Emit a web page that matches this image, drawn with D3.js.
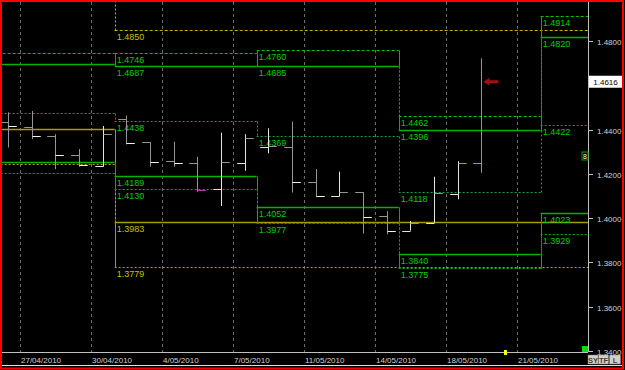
<!DOCTYPE html>
<html>
<head>
<meta charset="utf-8">
<script src="https://cdn.jsdelivr.net/npm/d3@7"></script>
<style>
  body { margin: 0; background: #000; }
  svg { display: block; font-family: "Liberation Sans", Arial, sans-serif; }
</style>
</head>
<body>
<svg width="625" height="370"></svg>
<script>
// trading sessions on the x axis (forex feed with sunday sessions)
var slots = ["25/04/2010", "26/04/2010", "27/04/2010", "28/04/2010", "29/04/2010", "30/04/2010",
             "2/05/2010", "3/05/2010", "4/05/2010", "5/05/2010", "6/05/2010", "7/05/2010",
             "9/05/2010", "10/05/2010", "11/05/2010", "12/05/2010", "13/05/2010", "14/05/2010",
             "16/05/2010", "17/05/2010", "18/05/2010", "19/05/2010", "20/05/2010", "21/05/2010",
             "23/05/2010", "24/05/2010"];
var tickDays = ["27/04/2010", "30/04/2010", "4/05/2010", "7/05/2010", "11/05/2010", "14/05/2010", "18/05/2010", "21/05/2010"];

// daily OHLC bars
var barDays = ["26/04/2010", "27/04/2010", "28/04/2010", "29/04/2010", "30/04/2010",
               "2/05/2010", "3/05/2010", "4/05/2010", "5/05/2010", "6/05/2010", "7/05/2010",
               "9/05/2010", "10/05/2010", "11/05/2010", "12/05/2010", "13/05/2010", "14/05/2010",
               "16/05/2010", "17/05/2010", "18/05/2010", "19/05/2010"];
var opens  = [1.4436, 1.4413, 1.4371, 1.4285, 1.4235, 1.4448, 1.4342, 1.4258, 1.4248, 1.4130, 1.4250,
              1.4323, 1.4323, 1.4165, 1.4100, 1.4117, 1.4010, 1.3943, 1.3979, 1.4108, 1.4248];
var highs  = [1.4478, 1.4484, 1.4379, 1.4312, 1.4416, 1.4463, 1.4342, 1.4345, 1.4277, 1.4386, 1.4379,
              1.4406, 1.4436, 1.4222, 1.4210, 1.4118, 1.4032, 1.3987, 1.4187, 1.4257, 1.4722];
var lows   = [1.4319, 1.4357, 1.4221, 1.4232, 1.4232, 1.4333, 1.4232, 1.4232, 1.4119, 1.4055, 1.4214,
              1.4293, 1.4116, 1.4095, 1.4098, 1.3931, 1.3927, 1.3943, 1.3979, 1.4085, 1.4205];
var closes = [1.4416, 1.4371, 1.4285, 1.4240, 1.4379, 1.4338, 1.4253, 1.4248, 1.4127, 1.4255, 1.4361,
              1.4327, 1.4164, 1.4100, 1.4119, 1.4003, 1.3943, 1.3979, 1.4112, 1.4250, 1.4616];
var markedDay = "5/05/2010";

// weekly levels (green), one value per week
var weekStarts = ["25/04/2010", "2/05/2010", "9/05/2010", "16/05/2010", "23/05/2010"];
var weekHighDash  = [1.4746, 1.4746, 1.4760, 1.4462, 1.4914];
var weekHighSolid = [1.4695, 1.4687, 1.4685, 1.4396, 1.4820];
var weekMid       = [1.4473, 1.4438, 1.4369, 1.4118, 1.4422];
var weekLowSolid  = [1.4255, 1.4189, 1.4052, 1.3840, 1.4023];
var weekLowDash   = [1.4202, 1.4130, 1.3977, 1.3775, 1.3929];

// monthly levels (yellow)
var monthStarts = ["25/04/2010", "2/05/2010"];
var monthHighDash = [1.5150, 1.4850];
var monthSolid    = [1.4401, 1.3983];
var monthLowDash  = [1.4243, 1.3779];

// price axis
var priceTicks = [1.48, 1.46, 1.44, 1.42, 1.40, 1.38, 1.36, 1.34];
var lastPrice = 1.4616;

var svg = d3.select("svg"),
    width = +svg.attr("width"),
    height = +svg.attr("height"),
    plotRight = 588,
    plotBottom = 352;

var x = d3.scaleBand().domain(slots).range([plotRight - slots.length * 71 / 3, plotRight]).padding(0),
    y = d3.scaleLinear().domain([1.34, 1.48]).range([351, 41]);
var bw = x.bandwidth();

function px(v) { return Math.round(v) + 0.5; }

svg.append("rect").attr("width", width).attr("height", height).attr("fill", "#000");

svg.append("clipPath").attr("id", "plot-clip")
  .append("rect").attr("x", 0).attr("y", 0).attr("width", plotRight).attr("height", plotBottom);

var g = svg.append("g").attr("clip-path", "url(#plot-clip)");

// vertical date grid
g.selectAll(".grid")
  .data(tickDays)
  .enter().append("line")
    .attr("x1", function(d) { return px(x(d)); })
    .attr("x2", function(d) { return px(x(d)); })
    .attr("y1", 2).attr("y2", plotBottom)
    .attr("stroke", "#6c6c6c")
    .attr("stroke-dasharray", "3,3");

// step level: horizontal piece per period, dotted connector at each change
function segments(starts, vals) {
  return starts.map(function(s, i) {
    return {x0: x(s), x1: i < starts.length - 1 ? x(starts[i + 1]) : plotRight,
            v: vals[i], prev: i > 0 ? vals[i - 1] : null};
  });
}

function drawLevel(starts, vals, color, dash, sw, labelColor) {
  var segs = segments(starts, vals);
  g.selectAll(null)
    .data(segs)
    .enter().append("line")
      .attr("x1", function(d) { return d.x0; })
      .attr("x2", function(d) { return d.x1; })
      .attr("y1", function(d) { return px(y(d.v)); })
      .attr("y2", function(d) { return px(y(d.v)); })
      .attr("stroke", color)
      .attr("stroke-width", sw)
      .attr("stroke-dasharray", dash);
  g.selectAll(null)
    .data(segs.filter(function(d) { return d.prev !== null; }))
    .enter().append("line")
      .attr("x1", function(d) { return px(d.x0); })
      .attr("x2", function(d) { return px(d.x0); })
      .attr("y1", function(d) { return px(y(d.prev)); })
      .attr("y2", function(d) { return px(y(d.v)); })
      .attr("stroke", color)
      .attr("stroke-dasharray", "2,2");
  g.selectAll(null)
    .data(segs.filter(function(d) { return d.x0 >= 0; }))
    .enter().append("text")
      .attr("x", function(d) { return d.x0 + 2; })
      .attr("y", function(d) { return y(d.v) + 10; })
      .attr("fill", labelColor)
      .attr("font-size", "9px")
      .text(function(d) { return d.v.toFixed(4); });
}

// box sides between a solid level and its dashed partner
function drawBoxSides(starts, a, b, color) {
  var segs = segments(starts, a);
  var sides = [];
  segs.forEach(function(d, i) {
    sides.push({x: d.x0, a: a[i], b: b[i]});
    sides.push({x: d.x1, a: a[i], b: b[i]});
  });
  g.selectAll(null)
    .data(sides)
    .enter().append("line")
      .attr("x1", function(d) { return px(d.x); })
      .attr("x2", function(d) { return px(d.x); })
      .attr("y1", function(d) { return px(y(d.a)); })
      .attr("y2", function(d) { return px(y(d.b)); })
      .attr("stroke", color);
}

// monthly levels
drawLevel(monthStarts, monthHighDash, "#c8b000", "3,2", 1, "#c8c000");
drawLevel(monthStarts, monthSolid, "#a89a00", null, 1.5, "#c8c000");
drawLevel(monthStarts, monthLowDash, "#b0a000", "2,2", 1, "#c8c000");
drawBoxSides(monthStarts, monthSolid, monthLowDash, "#a89a00");

// weekly levels
drawLevel(weekStarts, weekHighDash, "#00c800", "3,2", 1, "#00d000");
drawLevel(weekStarts, weekHighSolid, "#00b400", null, 1.5, "#00d000");
drawLevel(weekStarts, weekMid, "#10a048", "2,2", 1, "#00d000");
drawLevel(weekStarts, weekLowSolid, "#00b400", null, 1.5, "#00d000");
drawLevel(weekStarts, weekLowDash, "#00b400", "2,2", 1, "#00d000");
drawBoxSides(weekStarts, weekHighSolid, weekHighDash, "#00b400");
drawBoxSides(weekStarts, weekLowSolid, weekLowDash, "#00b400");

// OHLC bars
var bars = barDays.map(function(d, i) {
  return {day: d, o: opens[i], h: highs[i], l: lows[i], c: closes[i], last: i === barDays.length - 1};
});
var tick = bw * 0.35;
function barColor(d) { return d.last ? "#1ec8c8" : (d.c >= d.o ? "#e4e4e4" : "#969696"); }
function closeColor(d) {
  if (d.day === markedDay) return "#c030c0";
  return d.c >= d.o ? "#969696" : "#f0f0f0";
}

var bar = g.selectAll(".bar")
  .data(bars)
  .enter().append("g")
    .attr("class", "bar")
    .attr("transform", function(d) { return "translate(" + px(x(d.day) + bw / 2) + ",0)"; });

bar.append("line")
    .attr("y1", function(d) { return y(d.h); })
    .attr("y2", function(d) { return y(d.l); })
    .attr("stroke", barColor);
bar.append("line")
    .attr("x1", -tick).attr("x2", 0)
    .attr("y1", function(d) { return px(y(d.o)); })
    .attr("y2", function(d) { return px(y(d.o)); })
    .attr("stroke", barColor);
bar.filter(function(d) { return !d.last; }).append("line")
    .attr("x1", 0).attr("x2", tick)
    .attr("y1", function(d) { return px(y(d.c)); })
    .attr("y2", function(d) { return px(y(d.c)); })
    .attr("stroke", closeColor);

// bid arrow next to the live bar
var ax = x(barDays[barDays.length - 1]) + bw / 2 + 2,
    ay = y(lastPrice);
g.append("path")
    .attr("d", "M" + ax + "," + ay + "l6,-4v2.5h9v3h-9v2.5z")
    .attr("fill", "#a01010");

// price axis
svg.append("line")
    .attr("x1", px(plotRight)).attr("x2", px(plotRight))
    .attr("y1", 0).attr("y2", plotBottom)
    .attr("stroke", "#c0c0c0");
svg.append("line")
    .attr("x1", 0).attr("x2", plotRight)
    .attr("y1", px(plotBottom)).attr("y2", px(plotBottom))
    .attr("stroke", "#c0c0c0");

var yAxis = svg.append("g").selectAll("g")
  .data(priceTicks)
  .enter().append("g")
    .attr("transform", function(d) { return "translate(0," + px(y(d)) + ")"; });
yAxis.append("line").attr("x1", 589).attr("x2", 593).attr("stroke", "#c0c0c0");
// the last price box covers whichever tick label sits under it
yAxis.filter(function(d) { return Math.abs(y(d) - y(lastPrice)) > 9; })
  .append("text")
    .attr("x", 597).attr("y", 3)
    .attr("fill", "#d0d0d0")
    .attr("font-size", "8px")
    .text(function(d) { return d.toFixed(4); });

// last price box
svg.append("rect")
    .attr("x", 589).attr("y", y(lastPrice) - 6)
    .attr("width", 33).attr("height", 12)
    .attr("fill", "#fff");
svg.append("text")
    .attr("x", 605.5).attr("y", y(lastPrice) + 3)
    .attr("text-anchor", "middle")
    .attr("fill", "#000")
    .attr("font-size", "8px")
    .text(lastPrice.toFixed(4));

// date labels
svg.selectAll(".date")
  .data(tickDays)
  .enter().append("text")
    .attr("class", "date")
    .attr("x", function(d) { return x(d) + 1; })
    .attr("y", 363)
    .attr("fill", "#d0d0d0")
    .attr("font-size", "8px")
    .text(function(d) { return d; });

// small terminal widgets
svg.append("rect").attr("x", 582).attr("y", 152).attr("width", 6).attr("height", 8)
    .attr("fill", "#000").attr("stroke", "#00a000");
svg.append("text").attr("x", 585).attr("y", 159).attr("text-anchor", "middle")
    .attr("fill", "#fff").attr("font-size", "7px").text("8");
svg.append("rect").attr("x", 582).attr("y", 346).attr("width", 6).attr("height", 6).attr("fill", "#00e000");
svg.append("rect").attr("x", 504).attr("y", 350).attr("width", 3).attr("height", 5).attr("fill", "#ffff00");

var buttons = [{t: "SY", x: 588, w: 10}, {t: "TF", x: 598.5, w: 10}, {t: "L", x: 609.5, w: 11}];
var btn = svg.selectAll(".btn").data(buttons).enter().append("g").attr("class", "btn");
btn.append("rect")
    .attr("x", function(d) { return d.x; }).attr("y", 355)
    .attr("width", function(d) { return d.w; }).attr("height", 9)
    .attr("fill", "#d4d0c8").attr("stroke", "#808080").attr("stroke-width", 0.5);
btn.append("text")
    .attr("x", function(d) { return d.x + d.w / 2; }).attr("y", 363)
    .attr("text-anchor", "middle")
    .attr("fill", "#404040").attr("font-size", "7.5px").attr("font-weight", "bold")
    .text(function(d) { return d.t; });

// window frame
svg.append("line").attr("x1", 0).attr("x2", 622).attr("y1", 365.5).attr("y2", 365.5)
    .attr("stroke", "#e0e0e0");
svg.append("rect")
    .attr("x", 1).attr("y", 1).attr("width", 622).attr("height", 367.5)
    .attr("fill", "none").attr("stroke", "#ff0000").attr("stroke-width", 2);
</script>
</body>
</html>
